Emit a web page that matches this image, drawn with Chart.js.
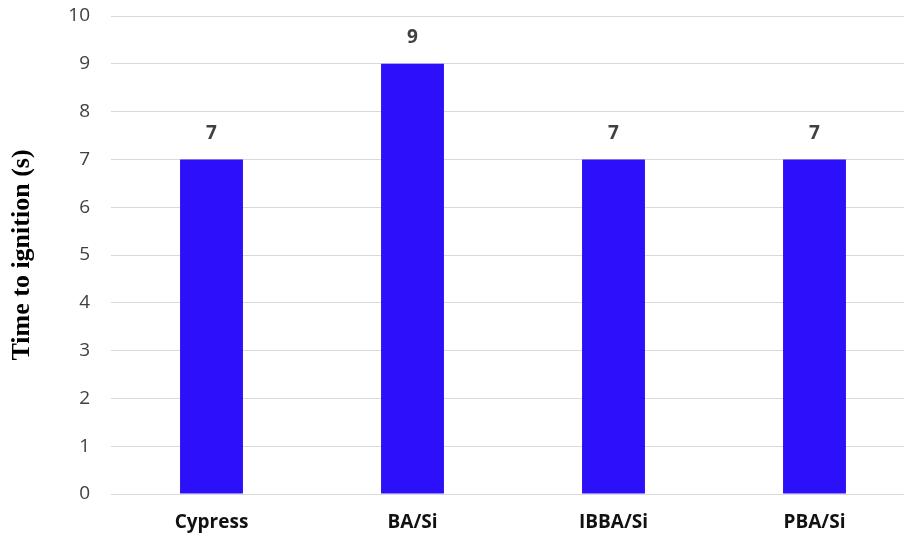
<!DOCTYPE html>
<html>
<head>
<meta charset="utf-8">
<script src="https://cdn.jsdelivr.net/npm/chart.js@4.4.1/dist/chart.umd.min.js"></script>
<style>
  html, body { margin: 0; padding: 0; background: #ffffff; overflow: hidden; }
  #wrap { width: 915px; height: 538px; position: relative; }
</style>
</head>
<body>
<div id="wrap"><canvas id="c"></canvas></div>
<script>
// Ignition times per sample
const categories = ['Cypress', 'BA/Si', 'IBBA/Si', 'PBA/Si'];
const ignitionTimes = [7, 9, 7, 7];
const yTicks = [0, 1, 2, 3, 4, 5, 6, 7, 8, 9, 10];

// Writes each bar's value just above it
const valueLabels = {
  id: 'valueLabels',
  afterDatasetsDraw(chart) {
    const ctx = chart.ctx;
    const meta = chart.getDatasetMeta(0);
    ctx.save();
    ctx.font = 'bold 19px "Open Sans"';
    ctx.fillStyle = '#404040';
    ctx.textAlign = 'center';
    ctx.textBaseline = 'middle';
    meta.data.forEach((bar, i) => {
      ctx.fillText(String(ignitionTimes[i]), bar.x, bar.y - 26);
    });
    ctx.restore();
  }
};

new Chart(document.getElementById('c'), {
  type: 'bar',
  data: {
    labels: categories,
    datasets: [{
      data: ignitionTimes,
      backgroundColor: '#2B10F9',
      borderWidth: 0,
      barPercentage: 1,
      categoryPercentage: 0.313
    }]
  },
  options: {
    responsive: true,
    maintainAspectRatio: false,
    animation: false,
    layout: { padding: { top: 16, left: 0, right: 0, bottom: 0 } },
    plugins: {
      legend: { display: false },
      tooltip: { enabled: false }
    },
    scales: {
      x: {
        grid: { display: false, drawTicks: false },
        border: { display: false },
        ticks: {
          color: '#111111',
          font: { family: 'Open Sans', size: 19, weight: 'bold' },
          padding: 17,
          maxRotation: 0
        },
        afterFit(scale) { scale.height = 44; }
      },
      y: {
        min: 0,
        max: 10,
        afterBuildTicks(scale) { scale.ticks = yTicks.map(v => ({ value: v })); },
        grid: { color: '#d9d9d9', lineWidth: 1, drawTicks: false },
        border: { display: false },
        ticks: {
          color: '#404040',
          font: { family: 'Open Sans', size: 19 },
          padding: 21
        },
        title: {
          display: true,
          text: 'Time to ignition (s)',
          color: '#000000',
          font: { family: 'Liberation Serif', size: 26, weight: 'bold' },
          padding: { top: 7, bottom: 0 }
        },
        afterFit(scale) {
          scale.width = 111;
          scale.paddingTop = 0;
          scale.paddingBottom = 0;
        }
      }
    }
  },
  plugins: [valueLabels]
});
</script>
</body>
</html>
